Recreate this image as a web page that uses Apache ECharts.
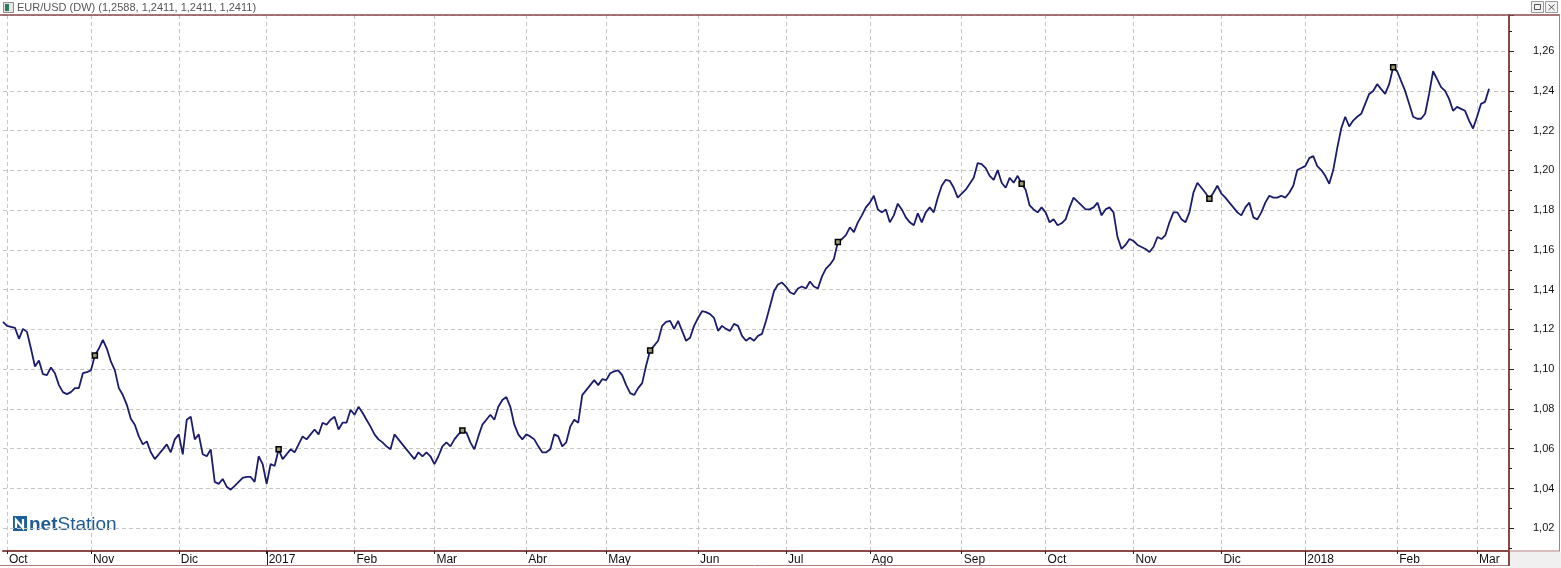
<!DOCTYPE html>
<html><head><meta charset="utf-8">
<script src="https://cdn.jsdelivr.net/npm/echarts@6/dist/echarts.min.js"></script>
<style>html,body{margin:0;padding:0;background:#fff}#c{width:1561px;height:568px}</style>
</head><body><div id="c"></div>
<script>
// ---------- data ----------
const chartTitle = 'EUR/USD (DW) (1,2588, 1,2411, 1,2411, 1,2411)';
const firstDay = '2016-09-30';   // first trading day on the axis
const lastDay = '2018-03-13';    // last trading day on the axis (empty space after data)
const monthLabels = ['Ene','Feb','Mar','Abr','May','Jun','Jul','Ago','Sep','Oct','Nov','Dic'];
// daily close values, one per trading day starting at firstDay
const values = [
1.1238,1.1218,1.1213,1.1208,1.1153,1.1203,1.1188,1.1104,1.1014,1.1044,
1.0975,1.0970,1.1009,1.0980,1.0920,1.0885,1.0875,1.0885,1.0905,1.0905,
1.0980,1.0985,1.0994,1.1069,1.1104,1.1148,1.1104,1.1039,1.0994,1.0905,
1.0870,1.0821,1.0751,1.0721,1.0662,1.0622,1.0637,1.0582,1.0548,1.0572,
1.0597,1.0622,1.0582,1.0647,1.0672,1.0572,1.0746,1.0761,1.0647,1.0672,
1.0572,1.0562,1.0597,1.0433,1.0423,1.0448,1.0409,1.0394,1.0413,1.0433,
1.0453,1.0458,1.0458,1.0433,1.0562,1.0523,1.0423,1.0523,1.0513,1.0597,
1.0548,1.0572,1.0597,1.0582,1.0622,1.0662,1.0647,1.0672,1.0697,1.0672,
1.0731,1.0721,1.0746,1.0761,1.0697,1.0731,1.0731,1.0796,1.0771,1.0811,
1.0781,1.0746,1.0711,1.0672,1.0647,1.0632,1.0612,1.0597,1.0672,1.0647,
1.0622,1.0597,1.0572,1.0548,1.0582,1.0562,1.0582,1.0562,1.0523,1.0562,
1.0612,1.0632,1.0612,1.0647,1.0672,1.0692,1.0682,1.0632,1.0597,1.0662,
1.0721,1.0746,1.0771,1.0746,1.0811,1.0845,1.0860,1.0811,1.0721,1.0672,
1.0647,1.0672,1.0662,1.0647,1.0612,1.0582,1.0582,1.0597,1.0672,1.0662,
1.0612,1.0632,1.0711,1.0746,1.0731,1.0870,1.0895,1.0920,1.0945,1.0920,
1.0950,1.0945,1.0980,1.0989,1.0994,1.0970,1.0920,1.0880,1.0870,1.0905,
1.0930,1.1019,1.1094,1.1119,1.1143,1.1218,1.1238,1.1243,1.1203,1.1243,
1.1193,1.1143,1.1158,1.1218,1.1258,1.1292,1.1287,1.1277,1.1258,1.1193,
1.1218,1.1203,1.1193,1.1228,1.1218,1.1168,1.1143,1.1158,1.1143,1.1168,
1.1178,1.1243,1.1317,1.1392,1.1426,1.1436,1.1416,1.1387,1.1377,1.1406,
1.1416,1.1406,1.1441,1.1416,1.1406,1.1466,1.1506,1.1526,1.1555,1.1640,
1.1655,1.1675,1.1714,1.1690,1.1739,1.1774,1.1814,1.1838,1.1873,1.1804,
1.1789,1.1804,1.1739,1.1774,1.1833,1.1804,1.1764,1.1739,1.1724,1.1784,
1.1739,1.1789,1.1814,1.1789,1.1863,1.1923,1.1953,1.1948,1.1913,1.1863,
1.1883,1.1903,1.1933,1.1963,1.2037,1.2032,1.2012,1.1973,1.1953,1.2002,
1.1938,1.1913,1.1963,1.1938,1.1973,1.1933,1.1903,1.1824,1.1804,1.1789,
1.1814,1.1789,1.1739,1.1754,1.1724,1.1734,1.1754,1.1814,1.1863,1.1843,
1.1824,1.1804,1.1804,1.1814,1.1838,1.1774,1.1804,1.1814,1.1789,1.1665,
1.1605,1.1625,1.1655,1.1645,1.1625,1.1615,1.1605,1.1590,1.1615,1.1665,
1.1655,1.1675,1.1739,1.1789,1.1789,1.1754,1.1739,1.1789,1.1888,1.1938,
1.1913,1.1888,1.1858,1.1888,1.1923,1.1883,1.1863,1.1838,1.1814,1.1789,
1.1774,1.1814,1.1838,1.1764,1.1754,1.1789,1.1838,1.1873,1.1863,1.1863,
1.1873,1.1863,1.1888,1.1923,1.2002,1.2012,1.2022,1.2062,1.2072,1.2022,
1.2002,1.1973,1.1933,1.2002,1.2112,1.2211,1.2270,1.2221,1.2251,1.2270,
1.2285,1.2335,1.2385,1.2400,1.2434,1.2409,1.2385,1.2434,1.2519,1.2499,
1.2449,1.2400,1.2335,1.2270,1.2260,1.2260,1.2285,1.2385,1.2499,1.2459,
1.2419,1.2400,1.2360,1.2300,1.2320,1.2310,1.2300,1.2251,1.2211,1.2270,
1.2335,1.2345,1.2411
];
const markerDays = [23, 69, 115, 162, 209, 255, 302, 348]; // trading-day positions of event markers
const lastPrice = 1.2411;
const lastPriceText = '1,2411';
const yMin = 1.00, yMax = 1.2782, yStep = 0.02;

// ---------- helpers ----------
function tradingDays(a, b) {
  const out = [];
  const d = new Date(a + 'T00:00:00Z'), e = new Date(b + 'T00:00:00Z');
  while (d <= e) {
    const w = d.getUTCDay();
    if (w !== 0 && w !== 6) out.push(d.toISOString().slice(0, 10));
    d.setUTCDate(d.getUTCDate() + 1);
  }
  return out;
}
const cats = tradingDays(firstDay, lastDay);
const isMonthStart = (i) => i > 0 && cats[i].slice(0, 7) !== cats[i - 1].slice(0, 7);
const monthText = (v) => {
  const m = +v.slice(5, 7);
  return m === 1 ? v.slice(0, 4) : monthLabels[m - 1];
};

const FRAME = '#8a4848';
const THIN = '#b07c7c';
const GRIDC = '#c6c6c6';
const FONT = '"Liberation Sans", Arial, sans-serif';

const chart = echarts.init(document.getElementById('c'), null, {renderer: 'canvas'});
const baseGraphic = [
  // title bar
  {type: 'rect', shape: {x: 3.5, y: 2.5, width: 10, height: 10}, style: {fill: '#e6e6e6', stroke: '#8a8a8a', lineWidth: 1}},
  {type: 'rect', shape: {x: 5, y: 4, width: 4, height: 7}, style: {fill: '#2f7a5a'}},
  {type: 'text', x: 17, y: 2, style: {text: chartTitle, fontSize: 11, fill: '#555', fontFamily: FONT}},
  // window buttons
  {type: 'rect', shape: {x: 1531.5, y: 1.5, width: 12, height: 11}, style: {fill: '#f2f2f2', stroke: '#9a9a9a'}},
  {type: 'rect', shape: {x: 1534.5, y: 4.5, width: 6, height: 5}, style: {fill: 'none', stroke: '#555'}},
  {type: 'rect', shape: {x: 1545.5, y: 1.5, width: 12, height: 11}, style: {fill: '#f2f2f2', stroke: '#9a9a9a'}},
  {type: 'line', shape: {x1: 1548.5, y1: 4.5, x2: 1554.5, y2: 10}, style: {stroke: '#555'}},
  {type: 'line', shape: {x1: 1554.5, y1: 4.5, x2: 1548.5, y2: 10}, style: {stroke: '#555'}},
  // frame lines
  {type: 'line', z: 50, shape: {x1: 0, y1: 15, x2: 1560, y2: 15}, style: {stroke: FRAME, lineWidth: 1.5}},
  {type: 'line', z: 50, shape: {x1: 1559.5, y1: 15, x2: 1559.5, y2: 551}, style: {stroke: THIN, lineWidth: 1}},
  {type: 'rect', z: 100, shape: {x: 1510, y: 552, width: 51, height: 16}, style: {fill: '#f0f0f0'}},
  {type: 'line', z: 101, shape: {x1: 1509, y1: 551, x2: 1560, y2: 551}, style: {stroke: THIN, lineWidth: 1}},
  {type: 'line', z: 101, shape: {x1: 1509, y1: 551, x2: 1509, y2: 566}, style: {stroke: FRAME, lineWidth: 2}},
  {type: 'line', z: 50, shape: {x1: 0, y1: 565.5, x2: 1509, y2: 565.5}, style: {stroke: THIN, lineWidth: 1}},
  // logo
  {type: 'rect', shape: {x: 13, y: 516, width: 14, height: 15}, style: {fill: '#1d5f9c'}},
  {type: 'polyline', shape: {points: [[16, 528], [16, 520], [23, 528], [23, 519]]}, style: {stroke: '#fff', lineWidth: 2.2, fill: 'none'}},
  {type: 'text', x: 29, y: 515, style: {
    text: '{a|net}{b|Station}', fontFamily: FONT,
    rich: {a: {fontSize: 19, fontWeight: 'bold', fill: '#1d5a93', fontFamily: FONT},
           b: {fontSize: 19, fill: '#1d5a93', fontFamily: FONT}}}}
];

const option = {
  animation: false,
  backgroundColor: '#ffffff',
  grid: [
    {left: 3, right: 52, top: 15, height: (yMax - yMin) / yStep * 40.28},
    {left: 3, right: 52, top: 15, bottom: 17}
  ],
  xAxis: [
    {type: 'category', gridIndex: 0, data: cats, boundaryGap: false, show: false},
    {type: 'category', gridIndex: 1, data: cats, boundaryGap: false, position: 'bottom',
      axisLine: {show: true, lineStyle: {color: FRAME, width: 2}},
      axisTick: {show: true, interval: (i) => isMonthStart(i), length: 3, lineStyle: {color: '#222'}},
      axisLabel: {interval: (i) => isMonthStart(i), formatter: (v) => monthText(v), align: 'left',
        padding: [0, 0, 0, 2], margin: 3, fontSize: 12, color: '#111', fontFamily: FONT},
      splitLine: {show: true, interval: (i) => isMonthStart(i), lineStyle: {color: GRIDC, type: [4, 3], width: 1}}
    }
  ],
  yAxis: [
    {type: 'value', gridIndex: 0, position: 'right', min: yMin, max: yMax, interval: yStep,
      axisLine: {show: false},
      axisTick: {show: true, length: 5, lineStyle: {color: '#222'}},
      minorTick: {show: true, splitNumber: 2, length: 3, lineStyle: {color: '#222'}},
      axisLabel: {show: true, margin: 24, showMaxLabel: false, showMinLabel: false, fontSize: 11, color: '#111', fontFamily: FONT,
        formatter: (v) => v.toFixed(2).replace('.', ',')},
      splitLine: {show: true, lineStyle: {color: GRIDC, type: [4, 3], width: 1}}
    },
    {type: 'value', gridIndex: 1, position: 'right', min: 0, max: 1,
      axisLine: {show: true, lineStyle: {color: FRAME, width: 2}},
      axisTick: {show: false}, axisLabel: {show: false}, splitLine: {show: false}}
  ],
  series: [{
    type: 'line', xAxisIndex: 0, yAxisIndex: 0, data: values,
    symbol: 'none', showSymbol: false, smooth: false,
    lineStyle: {color: '#1b1d6c', width: 1.8},
    markPoint: {
      symbol: 'rect', symbolSize: 5, silent: true,
      itemStyle: {color: '#9d987a', borderColor: '#000', borderWidth: 1.5},
      label: {show: false},
      data: markerDays.map(i => ({coord: [cats[i], values[i]]}))
    },
    markLine: {
      silent: true, symbol: ['none', 'none'],
      lineStyle: {opacity: 0},
      label: {show: true, position: 'end', distance: 2, formatter: lastPriceText, color: '#fff',
        backgroundColor: '#2d3788', padding: [2, 2, 1, 2], fontSize: 11, fontFamily: FONT},
      data: [{yAxis: lastPrice}]
    }
  }],
  graphic: baseGraphic
};
chart.setOption(option);

// year separators in the label row, positioned through the axis scale
const yearLines = cats.map((c, i) => i)
  .filter(i => isMonthStart(i) && cats[i].slice(5, 7) === '01')
  .map(i => {
    const x = Math.round(chart.convertToPixel({xAxisIndex: 1}, cats[i])) + 0.5;
    return {type: 'line', z: 60, shape: {x1: x, y1: 551, x2: x, y2: 565}, style: {stroke: '#222', lineWidth: 1}};
  });
chart.setOption({graphic: baseGraphic.concat(yearLines)});
</script>
</body></html>
